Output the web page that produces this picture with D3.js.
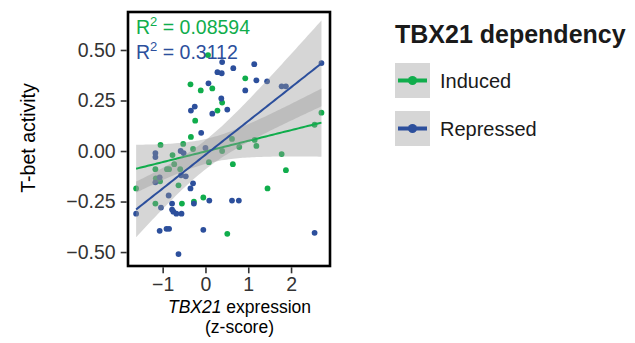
<!DOCTYPE html>
<html>
<head>
<meta charset="utf-8">
<script src="https://cdn.jsdelivr.net/npm/d3@7"></script>
<style>
  body { margin: 0; background: #fff; }
  svg { font-family: "Liberation Sans", Arial, sans-serif; }
</style>
</head>
<body>
<div id="chart"></div>
<script>
// values
const inducedX = [0.06, -0.35, -0.11, 0.16, 0.93, 0.39, 0.28, -0.24, 2.71, 2.55,
  -0.34, 0.62, -1.05, -0.52, 1.15, 1.19, 0.79, 0.39, -0.29, -0.77,
  1.78, 0.08, -0.73, 0.64, -1.17, -0.90, -0.85, -0.59, 1.88, -1.16,
  -1.06, -0.63, -1.62, 1.45, -0.05, -0.27, -1.17, -0.55, 0.51];
const inducedY = [0.475, 0.33, 0.30, 0.31, 0.36, 0.24, 0.20, 0.15, 0.19, 0.13,
  0.07, 0.06, 0.03, 0.035, 0.055, 0.025, 0.02, 0.00, 0.01, -0.02,
  -0.015, -0.055, -0.065, -0.065, -0.09, -0.09, -0.09, -0.09, -0.095, -0.135,
  -0.15, -0.17, -0.185, -0.185, -0.23, -0.25, -0.26, -0.26, -0.41];

const repressedX = [0.39, 0.28, 0.38, 0.65, 1.14, 0.07, 1.19, 1.44, 1.78, 1.88,
  0.93, 2.71, 0.37, -0.25, -0.34, 0.51, 0.16, -0.10, 0.00, -1.17,
  -1.17, -0.58, -0.51, -1.07, -0.57, -0.46, -1.17, -0.29, -0.35, -0.86,
  0.09, -0.27, 0.62, 0.78, -0.78, -1.04, -0.78, -0.75, -0.68, -0.56,
  -1.62, -1.07, -0.91, -0.85, -0.05, 2.55, -0.63];
const repressedY = [0.44, 0.39, 0.385, 0.41, 0.43, 0.335, 0.35, 0.345, 0.32, 0.32,
  0.30, 0.435, 0.26, 0.22, 0.20, 0.205, 0.185, 0.09, 0.015, -0.01,
  -0.03, 0.00, -0.01, -0.13, -0.12, -0.125, -0.155, -0.16, -0.185, -0.22,
  -0.245, -0.26, -0.245, -0.245, -0.26, -0.28, -0.29, -0.30, -0.31, -0.31,
  -0.31, -0.395, -0.385, -0.385, -0.39, -0.405, -0.51];

const groups = ['Induced', 'Repressed'];
const r2Labels = ['0.08594', '0.3112'];
const xTicks = [-1, 0, 1, 2];
const yTicks = [-0.50, -0.25, 0.00, 0.25, 0.50];

const colors = { Induced: '#10ad4c', Repressed: '#2c4f9c' };

const width = 635, height = 343;
const panel = { left: 128, right: 330, top: 12, bottom: 266 };

const svg = d3.select('#chart').append('svg')
  .attr('width', width)
  .attr('height', height);

const x = d3.scaleLinear().domain([-1.81, 2.91]).range([panel.left, panel.right]);
const y = d3.scaleLinear().domain([-0.569, 0.688]).range([panel.bottom, panel.top]);

const series = [
  { name: 'Induced', pts: inducedX.map((v, i) => ({ x: v, y: inducedY[i] })) },
  { name: 'Repressed', pts: repressedX.map((v, i) => ({ x: v, y: repressedY[i] })) }
];

// t quantile (0.975) from a Cornish-Fisher expansion
function tq(df) {
  const z = 1.959964;
  return z + (z ** 3 + z) / (4 * df) + (5 * z ** 5 + 16 * z ** 3 + 3 * z) / (96 * df * df);
}

function fit(pts) {
  const n = pts.length;
  const mx = d3.mean(pts, d => d.x), my = d3.mean(pts, d => d.y);
  const sxx = d3.sum(pts, d => (d.x - mx) ** 2);
  const sxy = d3.sum(pts, d => (d.x - mx) * (d.y - my));
  const b = sxy / sxx, a = my - b * mx;
  const sse = d3.sum(pts, d => (d.y - a - b * d.x) ** 2);
  const s = Math.sqrt(sse / (n - 2));
  const t = tq(n - 2);
  const [x0, x1] = d3.extent(pts, d => d.x);
  const out = [];
  for (let i = 0; i <= 80; i++) {
    const xv = x0 + (x1 - x0) * i / 80;
    const fv = a + b * xv;
    const se = s * Math.sqrt(1 / n + (xv - mx) ** 2 / sxx);
    out.push({ x: xv, y: fv, lo: fv - t * se, hi: fv + t * se });
  }
  return out;
}

svg.append('clipPath').attr('id', 'clip')
  .append('rect')
  .attr('x', panel.left).attr('y', panel.top)
  .attr('width', panel.right - panel.left).attr('height', panel.bottom - panel.top);

const plot = svg.append('g').attr('clip-path', 'url(#clip)');

// points
series.forEach(s => {
  plot.append('g').selectAll('circle')
    .data(s.pts)
    .enter()
    .append('circle')
    .attr('cx', d => x(d.x))
    .attr('cy', d => y(d.y))
    .attr('r', 2.9)
    .attr('fill', colors[s.name]);
});

// smooths
const area = d3.area().x(d => x(d.x)).y0(d => y(d.lo)).y1(d => y(d.hi));
const line = d3.line().x(d => x(d.x)).y(d => y(d.y));

series.forEach(s => {
  const f = fit(s.pts);
  plot.append('path')
    .attr('d', area(f))
    .attr('fill', '#999999')
    .attr('fill-opacity', 0.4);
  plot.append('path')
    .attr('d', line(f))
    .attr('fill', 'none')
    .attr('stroke', colors[s.name])
    .attr('stroke-width', 2);
});

// R2 labels
groups.forEach((g, i) => {
  const t = svg.append('text')
    .attr('x', 136)
    .attr('y', 34 + i * 25)
    .attr('fill', colors[g])
    .attr('font-size', '19.5px');
  t.append('tspan').text('R');
  t.append('tspan').attr('font-size', '13px').attr('dy', '-8').text('2');
  t.append('tspan').attr('dy', '8').text(' = ' + r2Labels[i]);
});

// panel border
svg.append('rect')
  .attr('x', panel.left).attr('y', panel.top)
  .attr('width', panel.right - panel.left)
  .attr('height', panel.bottom - panel.top)
  .attr('fill', 'none')
  .attr('stroke', '#000')
  .attr('stroke-width', 2.6);

// axes
const xAxis = svg.append('g')
  .attr('transform', `translate(0,${panel.bottom + 1.3})`)
  .call(d3.axisBottom(x).tickValues(xTicks).tickSize(6).tickPadding(4)
    .tickFormat(d => d < 0 ? '\u2212' + Math.abs(d) : d));
xAxis.select('.domain').remove();
xAxis.selectAll('line').attr('stroke', '#333').attr('stroke-width', 1.6);
xAxis.selectAll('text').attr('fill', '#333').attr('font-size', '19.5px')
  .attr('font-family', '"Liberation Sans", Arial, sans-serif');

const yAxis = svg.append('g')
  .attr('transform', `translate(${panel.left - 1.3},0)`)
  .call(d3.axisLeft(y).tickValues(yTicks).tickSize(6).tickPadding(5)
    .tickFormat(d => (d < 0 ? '\u2212' : '') + Math.abs(d).toFixed(2)));
yAxis.select('.domain').remove();
yAxis.selectAll('line').attr('stroke', '#333').attr('stroke-width', 1.6);
yAxis.selectAll('text').attr('fill', '#333').attr('font-size', '19.5px')
  .attr('font-family', '"Liberation Sans", Arial, sans-serif');

// axis titles
const xt = svg.append('text')
  .attr('x', 239.5).attr('y', 313)
  .attr('text-anchor', 'middle')
  .attr('font-size', '17.5px')
  .attr('fill', '#000');
xt.append('tspan').attr('font-style', 'italic').text('TBX21');
xt.append('tspan').text(' expression');
svg.append('text')
  .attr('x', 239.5).attr('y', 333)
  .attr('text-anchor', 'middle')
  .attr('font-size', '17.5px')
  .text('(z-score)');

svg.append('text')
  .attr('transform', 'translate(35,138) rotate(-90)')
  .attr('text-anchor', 'middle')
  .attr('font-size', '19.5px')
  .text('T-bet activity');

// legend
const legend = svg.append('g').attr('transform', 'translate(395,0)');
legend.append('text')
  .attr('x', 0).attr('y', 43)
  .attr('font-size', '25px')
  .attr('font-weight', 'bold')
  .attr('fill', '#1a1a1a')
  .text('TBX21 dependency');

groups.forEach((g, i) => {
  const k = legend.append('g').attr('transform', `translate(0,${63 + i * 48})`);
  k.append('rect')
    .attr('width', 35).attr('height', 35)
    .attr('fill', '#999999').attr('fill-opacity', 0.4);
  k.append('line')
    .attr('x1', 3).attr('x2', 32).attr('y1', 17.5).attr('y2', 17.5)
    .attr('stroke', colors[g]).attr('stroke-width', 4);
  k.append('circle')
    .attr('cx', 17.5).attr('cy', 17.5).attr('r', 4.5)
    .attr('fill', colors[g]);
  k.append('text')
    .attr('x', 45).attr('y', 24.5)
    .attr('font-size', '20px')
    .attr('fill', '#1a1a1a')
    .text(g);
});
</script>
</body>
</html>
